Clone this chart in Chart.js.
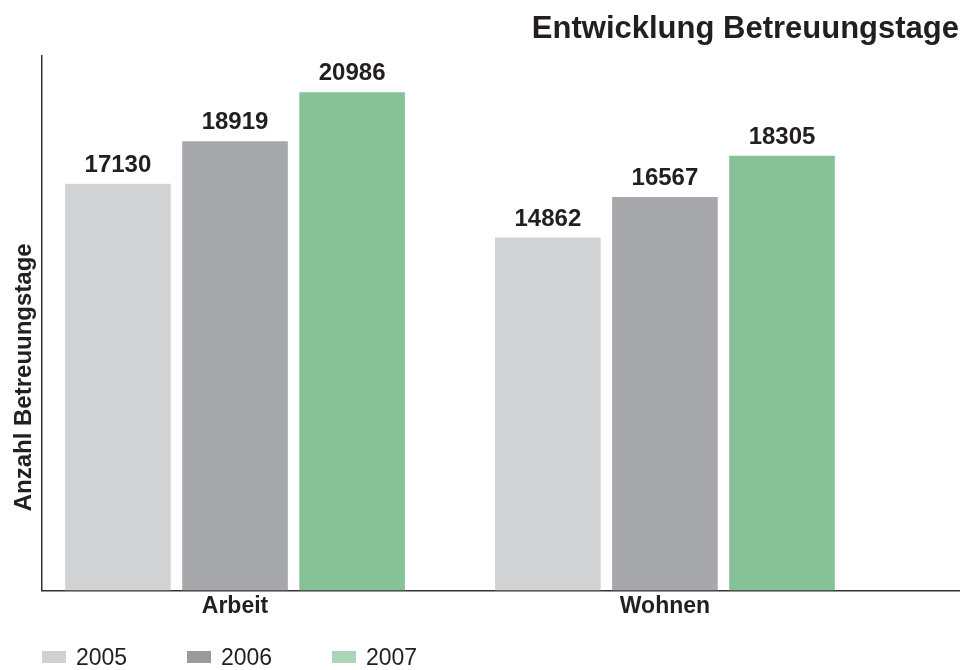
<!DOCTYPE html>
<html lang="de">
<head>
<meta charset="utf-8">
<title>Entwicklung Betreuungstage</title>
<script src="https://cdn.jsdelivr.net/npm/chart.js@4.4.1/dist/chart.umd.min.js"></script>
<style>
  html, body { margin: 0; padding: 0; background: #fff; }
</style>
</head>
<body>
<canvas id="betreuungChart" width="971" height="670"></canvas>
<script>
// Daten
const categories = ['Arbeit', 'Wohnen'];
const years = ['2005', '2006', '2007'];
const values2005 = [17130, 14862];
const values2006 = [18919, 16567];
const values2007 = [20986, 18305];
const seriesValues = [values2005, values2006, values2007];

// Farben / Schrift
const barColors = ['#d1d2d4', '#a7a8ab', '#86c197'];
const legendColors = ['#d0d0d0', '#9a9a9a', '#acd4b7'];
const textColor = '#231f20';
const fontFamily = '"Liberation Sans", Arial, Helvetica, sans-serif';

// Werte über den Balken
const valueLabels = {
  id: 'valueLabels',
  afterDatasetsDraw(chart) {
    const { ctx } = chart;
    ctx.save();
    ctx.font = 'bold 24px ' + fontFamily;
    ctx.fillStyle = textColor;
    ctx.textAlign = 'center';
    ctx.textBaseline = 'alphabetic';
    chart.data.datasets.forEach((ds, i) => {
      chart.getDatasetMeta(i).data.forEach((bar, j) => {
        ctx.fillText(String(ds.data[j].y), bar.x, bar.y - 12);
      });
    });
    ctx.restore();
  }
};

// Achsentitel links (etwas unterhalb der Mitte wie im Original)
const yTitle = {
  id: 'yTitle',
  afterDraw(chart) {
    const { ctx, chartArea } = chart;
    ctx.save();
    ctx.translate(31, (chartArea.top + chartArea.bottom) / 2 + 54);
    ctx.rotate(-Math.PI / 2);
    ctx.font = 'bold 24px ' + fontFamily;
    ctx.fillStyle = textColor;
    ctx.textAlign = 'center';
    ctx.textBaseline = 'alphabetic';
    ctx.fillText('Anzahl Betreuungstage', 0, 0);
    ctx.restore();
  }
};

// Legende unten links
const bottomLegend = {
  id: 'bottomLegend',
  afterDraw(chart) {
    const { ctx, chartArea } = chart;
    ctx.save();
    ctx.font = '23px ' + fontFamily;
    ctx.textBaseline = 'alphabetic';
    chart.data.datasets.forEach((ds, i) => {
      const bx = chartArea.left + i * 145;
      ctx.fillStyle = legendColors[i];
      ctx.fillRect(bx, 651, 24, 12);
      ctx.fillStyle = textColor;
      ctx.fillText(ds.label, bx + 34, 665);
    });
    ctx.restore();
  }
};

const ctx = document.getElementById('betreuungChart').getContext('2d');

new Chart(ctx, {
  type: 'bar',
  data: {
    datasets: years.map((year, i) => ({
      label: year,
      data: categories.map((c, j) => ({ x: j, y: seriesValues[i][j] })),
      backgroundColor: barColors[i],
      borderWidth: 0,
      categoryPercentage: 0.817,
      barPercentage: 0.902
    }))
  },
  options: {
    responsive: false,
    animation: false,
    layout: { padding: { left: 42, right: 12, top: 0, bottom: 48 } },
    plugins: {
      legend: { display: false },
      tooltip: { enabled: false },
      title: {
        display: true,
        text: 'Entwicklung Betreuungstage',
        align: 'end',
        color: textColor,
        font: { family: fontFamily, size: 31, weight: 'bold' },
        padding: { top: 11, bottom: 8 }
      }
    },
    scales: {
      x: {
        type: 'linear',
        bounds: 'data',
        offset: false,
        min: -0.449,
        max: 1.684,
        afterBuildTicks: axis => {
          axis.ticks = categories.map((c, j) => ({ value: j }));
        },
        grid: { display: false, drawTicks: false, offset: false },
        border: { display: true, color: '#333333', width: 1.5 },
        ticks: {
          autoSkip: false,
          padding: 2,
          color: textColor,
          font: { family: fontFamily, size: 23, weight: 'bold' },
          callback: v => categories[v] ?? ''
        }
      },
      y: {
        min: 0,
        max: 22500,
        grid: { display: false, drawTicks: false },
        border: { display: true, color: '#333333', width: 1.5 },
        ticks: { display: false }
      }
    }
  },
  plugins: [valueLabels, yTitle, bottomLegend]
});
</script>
</body>
</html>
